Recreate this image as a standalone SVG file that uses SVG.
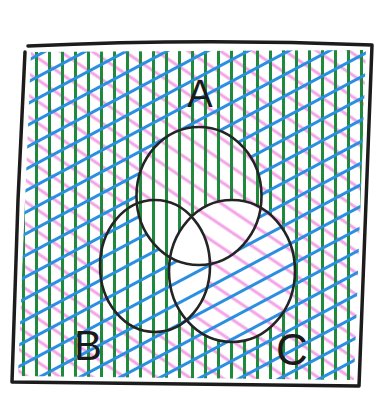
<svg xmlns="http://www.w3.org/2000/svg" width="382" height="394" viewBox="0 0 382 394">
<style>
.outline{fill:none;stroke:#242424;stroke-width:2.6;stroke-linecap:round;stroke-linejoin:round}
.frame{fill:none;stroke:#1c1c1c;stroke-width:3.5;stroke-linecap:round;stroke-linejoin:round}
.label{font-family:"Liberation Sans","DejaVu Sans",sans-serif;fill:#1a1a1a;text-anchor:middle}
</style>
<defs>
<pattern id="hG" patternUnits="userSpaceOnUse" width="13" height="20" x="4">
<line x1="6.5" y1="0" x2="6.5" y2="20" stroke="#1f8a3c" stroke-width="3"/>
</pattern>
<pattern id="hB" patternUnits="userSpaceOnUse" width="20" height="19" patternTransform="rotate(-28)">
<line x1="0" y1="9.5" x2="20" y2="9.5" stroke="#2a8fe0" stroke-width="3"/>
</pattern>
<pattern id="hP" patternUnits="userSpaceOnUse" width="20" height="18" patternTransform="rotate(34)">
<line x1="0" y1="9" x2="20" y2="9" stroke="#f3a3e6" stroke-width="3"/>
</pattern>
<clipPath id="inner"><path d="M31,52 L366,50 L354,380 L18,376 Z"/></clipPath>
<mask id="notA"><rect width="382" height="394" fill="#fff"/><ellipse cx="199" cy="196" rx="62.5" ry="69" fill="#000"/></mask>
<mask id="notB"><rect width="382" height="394" fill="#fff"/><ellipse cx="155" cy="266" rx="55" ry="66" fill="#000"/></mask>
<mask id="notC"><rect width="382" height="394" fill="#fff"/><ellipse cx="232" cy="271" rx="63" ry="71" fill="#000"/></mask>
</defs>
<rect width="382" height="394" fill="#fff"/>
<g id="hatching" clip-path="url(#inner)">
<rect id="hatch-not-B" width="382" height="394" fill="url(#hP)" mask="url(#notB)"/>
<rect id="hatch-not-C" width="382" height="394" fill="url(#hG)" mask="url(#notC)"/>
<rect id="hatch-not-A" width="382" height="394" fill="url(#hB)" mask="url(#notA)"/>
</g>
<g id="universe">
<path class="frame" d="M28,46 Q200,38 372,45 L359,386 L12,382 L18,200 L25,52"/>
</g>
<g id="set-A">
<ellipse class="outline" cx="199" cy="196" rx="62.5" ry="69"/>
<text class="label" x="200" y="107" font-size="38">A</text>
</g>
<g id="set-B">
<ellipse class="outline" cx="155" cy="266" rx="55" ry="66"/>
<text class="label" x="88" y="360" font-size="42">B</text>
</g>
<g id="set-C">
<ellipse class="outline" cx="232" cy="271" rx="63" ry="71"/>
<text class="label" x="292" y="365" font-size="44">C</text>
</g>
</svg>
